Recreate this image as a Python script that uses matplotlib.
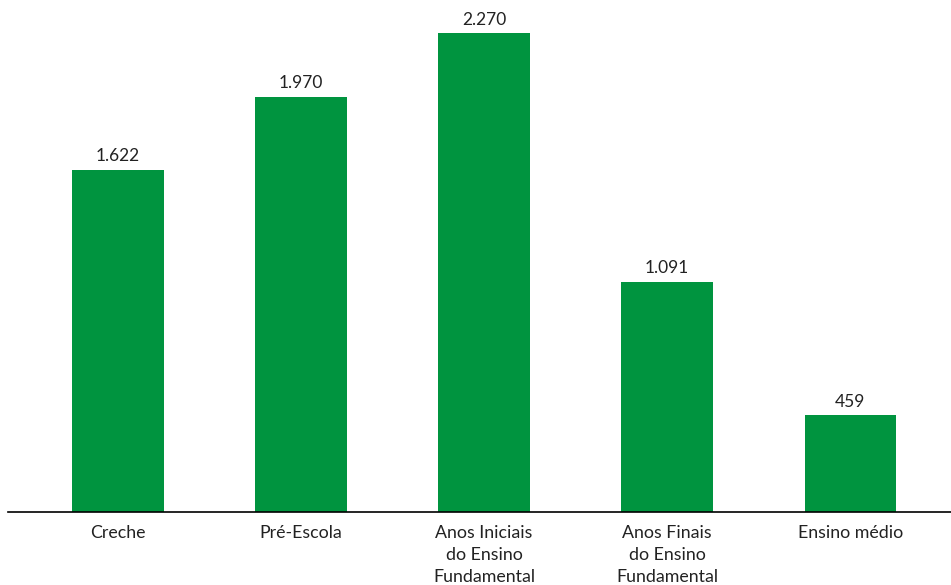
import matplotlib
matplotlib.use("Agg")
import matplotlib.pyplot as plt
import numpy as np

categorias = ["Creche", "Pré-Escola", "Anos Iniciais\ndo Ensino\nFundamental",
              "Anos Finais\ndo Ensino\nFundamental", "Ensino médio"]
valores = [1622, 1970, 2270, 1091, 459]
rotulos = ["1.622", "1.970", "2.270", "1.091", "459"]

plt.rcParams['font.family'] = ['Lato', 'DejaVu Sans']

fig = plt.figure(figsize=(9.51, 5.85), dpi=100)
ax = fig.add_axes([8 / 951, 73 / 585, 943 / 951, 506 / 585])

x = np.arange(len(categorias))
barras = ax.bar(x, valores, width=0.5, color="#00943f")

for b, r in zip(barras, rotulos):
    ax.annotate(r, (b.get_x() + b.get_width() / 2, b.get_height()),
                xytext=(0, 4), textcoords="offset points",
                ha="center", va="bottom", fontsize=12.5, color="#222222")

ax.set_xlim(-0.6, 4.55)
ax.set_ylim(0, 2400)
ax.set_xticks(x)
ax.set_xticklabels(categorias, fontsize=12.8, color="#222222", linespacing=1.5, va="top")
ax.tick_params(axis="x", length=0, pad=9)
ax.set_yticks([])
for s in ["top", "right", "left"]:
    ax.spines[s].set_visible(False)
ax.spines["bottom"].set_linewidth(1.2)

fig.savefig("out.png", dpi=100)
